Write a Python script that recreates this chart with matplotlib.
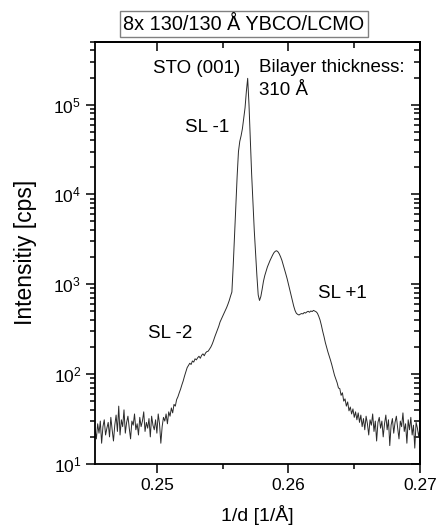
import numpy as np
import matplotlib
matplotlib.use("Agg")
import matplotlib.pyplot as plt
from matplotlib.ticker import MultipleLocator, FormatStrFormatter, LogLocator, NullFormatter

plt.rcParams['font.family'] = ['Liberation Sans', 'DejaVu Sans']
plt.rcParams['mathtext.fontset'] = 'custom'
plt.rcParams['mathtext.rm'] = 'Liberation Sans'

# scan grid: 1/d from 0.2453 in steps of 0.0001
q_start = 0.2453
q_step = 0.0001

intensity = [
    24, 19, 28, 22, 30, 17, 26, 31, 21, 25,
    29, 20, 33, 24, 18, 27, 35, 23, 44, 21,
    31, 26, 40, 22, 29, 34, 25, 19, 30, 27,
    36, 24, 28, 21, 33, 26, 30, 38, 23, 29,
    25, 32, 20, 34, 27, 24, 31, 22, 36, 28,
    17, 26, 33, 30, 36, 28, 38, 34, 42, 37,
    46, 44, 52, 56, 62, 68, 76, 84, 95, 106,
    118, 125, 132, 128, 140, 136, 148, 144, 152, 158,
    150, 162, 168, 160, 172, 178, 180, 190, 200, 215,
    235, 260, 285, 310, 340, 380, 410, 440, 475, 510,
    550, 600, 660, 740, 820, 1600, 3500, 7200, 16000, 30000,
    39000, 45000, 54000, 70000, 92000, 140000, 196000, 100000, 42000, 17000,
    8000, 4000, 2200, 1250, 760, 660, 730, 880, 1080, 1250,
    1400, 1560, 1700, 1840, 1980, 2120, 2250, 2330, 2360, 2300,
    2180, 2020, 1850, 1650, 1460, 1300, 1150, 1000, 880, 760,
    650, 570, 510, 475, 462, 455, 465, 472, 468, 485,
    478, 492, 500, 488, 505, 496, 512, 503, 494, 476,
    440, 400, 350, 300, 262, 225, 198, 176, 158, 142,
    126, 110, 97, 88, 80, 70, 69, 58, 62, 50,
    53, 44, 49, 39, 43, 36, 41, 33, 38, 31,
    37, 29, 35, 26, 32, 24, 34, 28, 21, 31,
    27, 36, 23, 30, 18, 29, 33, 25, 30, 20,
    28, 35, 24, 31, 16, 27, 32, 22, 29, 34,
    25, 19, 30, 26, 37, 23, 28, 17, 31, 24,
    33, 21, 27, 15, 29, 25, 20, 26,
]
q = q_start + q_step * np.arange(len(intensity))

title = "8x 130/130 Å YBCO/LCMO"
labels = ["STO (001)", "Bilayer thickness:", "310 Å", "SL -1", "SL -2", "SL +1"]
label_q = [0.25305, 0.25776, 0.25776, 0.25214, 0.24933, 0.26225]
label_I = [2.5e5, 2.57e5, 1.43e5, 5.55e4, 2.86e2, 7.9e2]
label_ha = ["center", "left", "left", "left", "left", "left"]

fig = plt.figure(figsize=(4.38, 5.29), dpi=100)
ax = fig.add_axes([0.217, 0.123, 0.742, 0.798])
ax.plot(q, intensity, color='#2a2a2a', lw=0.7)
ax.set_yscale('log')
ax.set_xlim(0.2453, 0.27)
ax.set_ylim(10, 5e5)

ax.xaxis.set_major_locator(MultipleLocator(0.01))
ax.xaxis.set_minor_locator(MultipleLocator(0.005))
ax.xaxis.set_major_formatter(FormatStrFormatter('%.2f'))
ax.yaxis.set_major_locator(LogLocator(base=10, numticks=10))
ax.yaxis.set_minor_locator(LogLocator(base=10, subs=np.arange(2, 10), numticks=20))
ax.yaxis.set_minor_formatter(NullFormatter())
ax.tick_params(which='both', direction='out', width=1.1, labelsize=12.5, top=False, right=False)
ax.tick_params(which='major', length=6.5)
ax.tick_params(which='minor', length=3.5)

secx = ax.secondary_xaxis('top')
secx.xaxis.set_major_locator(MultipleLocator(0.01))
secx.xaxis.set_minor_locator(MultipleLocator(0.005))
secx.tick_params(which='both', direction='in', labeltop=False, width=1.1)
secx.tick_params(which='major', length=6.5)
secx.tick_params(which='minor', length=4)

secy = ax.secondary_yaxis('right')
secy.yaxis.set_major_locator(LogLocator(base=10, numticks=10))
secy.yaxis.set_minor_locator(LogLocator(base=10, subs=np.arange(2, 10), numticks=20))
secy.yaxis.set_minor_formatter(NullFormatter())
secy.tick_params(which='both', direction='in', labelright=False, width=1.1)
secy.tick_params(which='major', length=6.5)
secy.tick_params(which='minor', length=4)

for s in ax.spines.values():
    s.set_linewidth(1.3)
for s in secx.spines.values():
    s.set_linewidth(1.3)
for s in secy.spines.values():
    s.set_linewidth(1.3)

ax.set_xlabel("1/d [1/Å]", fontsize=14, labelpad=9)
ax.set_ylabel("Intensitiy [cps]", fontsize=16.5, labelpad=12)

for txt, x, y, ha in zip(labels, label_q, label_I, label_ha):
    ax.text(x, y, txt, ha=ha, va='center', fontsize=13.5)

fig.text(0.557, 1 - 24 / 529, title, ha='center', va='center', fontsize=14.3,
         bbox=dict(facecolor='white', edgecolor='#808080', linewidth=1, boxstyle='square,pad=0.17'))

fig.savefig("out.png", dpi=100)
